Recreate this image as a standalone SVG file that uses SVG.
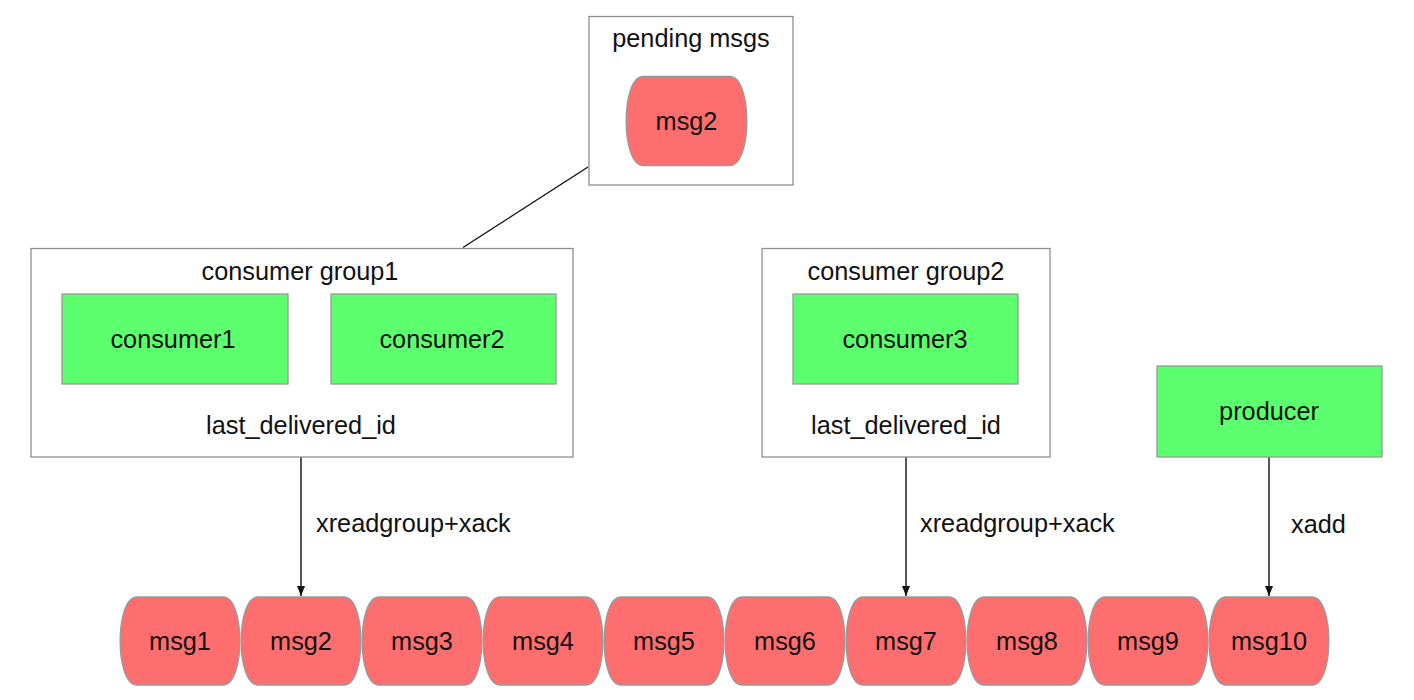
<svg xmlns="http://www.w3.org/2000/svg" width="1414" height="700" viewBox="0 0 1414 700">
<defs>
<style>
text{font-family:"Liberation Sans",Arial,Helvetica,sans-serif;font-size:25.3px;fill:#111;}
.c{text-anchor:middle;}
.box{fill:#fff;stroke:#8f8f8f;stroke-width:1.3;}
.green{fill:#5cff6d;stroke:#999;stroke-width:1.3;}
.msg{fill:#ff6e6e;stroke:#999;stroke-width:1.3;}
.edge{stroke:#111;stroke-width:1.4;fill:none;}
</style>
<marker id="arrow" viewBox="0 0 10 10" refX="10" refY="5" markerWidth="10" markerHeight="10" markerUnits="userSpaceOnUse" orient="auto">
<path d="M0,1 L10,5 L0,9 Z" fill="#111"/>
</marker>
<path id="msgshape" d="M17,0 H103 C125.5,0 125.5,88 103,88 H17 C-5.5,88 -5.5,0 17,0 Z"/>
</defs>
<rect width="1414" height="700" fill="#fff"/>

<g id="connectors">
<line class="edge" x1="588" y1="167" x2="463" y2="247.5"/>
<line class="edge" x1="301" y1="457" x2="301" y2="596" marker-end="url(#arrow)"/>
<line class="edge" x1="906" y1="457" x2="906" y2="596" marker-end="url(#arrow)"/>
<line class="edge" x1="1269" y1="457" x2="1269" y2="596" marker-end="url(#arrow)"/>
<text x="316" y="532">xreadgroup+xack</text>
<text x="920" y="532">xreadgroup+xack</text>
<text x="1291" y="533">xadd</text>
</g>

<g id="pending">
<rect class="box" x="589" y="16.5" width="204" height="168.5"/>
<text class="c" x="691" y="47">pending msgs</text>
<g id="pending-msg2">
<use href="#msgshape" class="msg" transform="translate(626,76.5) scale(1.0083,1.0114)"/>
<text class="c" x="686.5" y="130">msg2</text>
</g>
</g>

<g id="group1">
<rect class="box" x="31" y="248.5" width="542" height="208.5"/>
<text class="c" x="300" y="280">consumer group1</text>
<text class="c" x="301" y="434">last_delivered_id</text>
</g>
<g id="consumer1">
<rect class="green" x="62" y="294" width="226" height="90"/>
<text class="c" x="173" y="348">consumer1</text>
</g>
<g id="consumer2">
<rect class="green" x="331" y="294" width="225" height="90"/>
<text class="c" x="442" y="348">consumer2</text>
</g>

<g id="group2">
<rect class="box" x="762" y="248.5" width="288" height="208.5"/>
<text class="c" x="906" y="280">consumer group2</text>
<text class="c" x="906" y="434">last_delivered_id</text>
</g>
<g id="consumer3">
<rect class="green" x="793" y="294" width="225" height="90"/>
<text class="c" x="905" y="348">consumer3</text>
</g>

<g id="producer">
<rect class="green" x="1157" y="366" width="225" height="91"/>
<text class="c" x="1269" y="420">producer</text>
</g>

<g id="msg1"><use href="#msgshape" class="msg" x="120" y="597"/><text class="c" x="180" y="650">msg1</text></g>
<g id="msg2"><use href="#msgshape" class="msg" x="241" y="597"/><text class="c" x="301" y="650">msg2</text></g>
<g id="msg3"><use href="#msgshape" class="msg" x="362" y="597"/><text class="c" x="422" y="650">msg3</text></g>
<g id="msg4"><use href="#msgshape" class="msg" x="483" y="597"/><text class="c" x="543" y="650">msg4</text></g>
<g id="msg5"><use href="#msgshape" class="msg" x="604" y="597"/><text class="c" x="664" y="650">msg5</text></g>
<g id="msg6"><use href="#msgshape" class="msg" x="725" y="597"/><text class="c" x="785" y="650">msg6</text></g>
<g id="msg7"><use href="#msgshape" class="msg" x="846" y="597"/><text class="c" x="906" y="650">msg7</text></g>
<g id="msg8"><use href="#msgshape" class="msg" x="967" y="597"/><text class="c" x="1027" y="650">msg8</text></g>
<g id="msg9"><use href="#msgshape" class="msg" x="1088" y="597"/><text class="c" x="1148" y="650">msg9</text></g>
<g id="msg10"><use href="#msgshape" class="msg" x="1209" y="597"/><text class="c" x="1269" y="650">msg10</text></g>
</svg>
